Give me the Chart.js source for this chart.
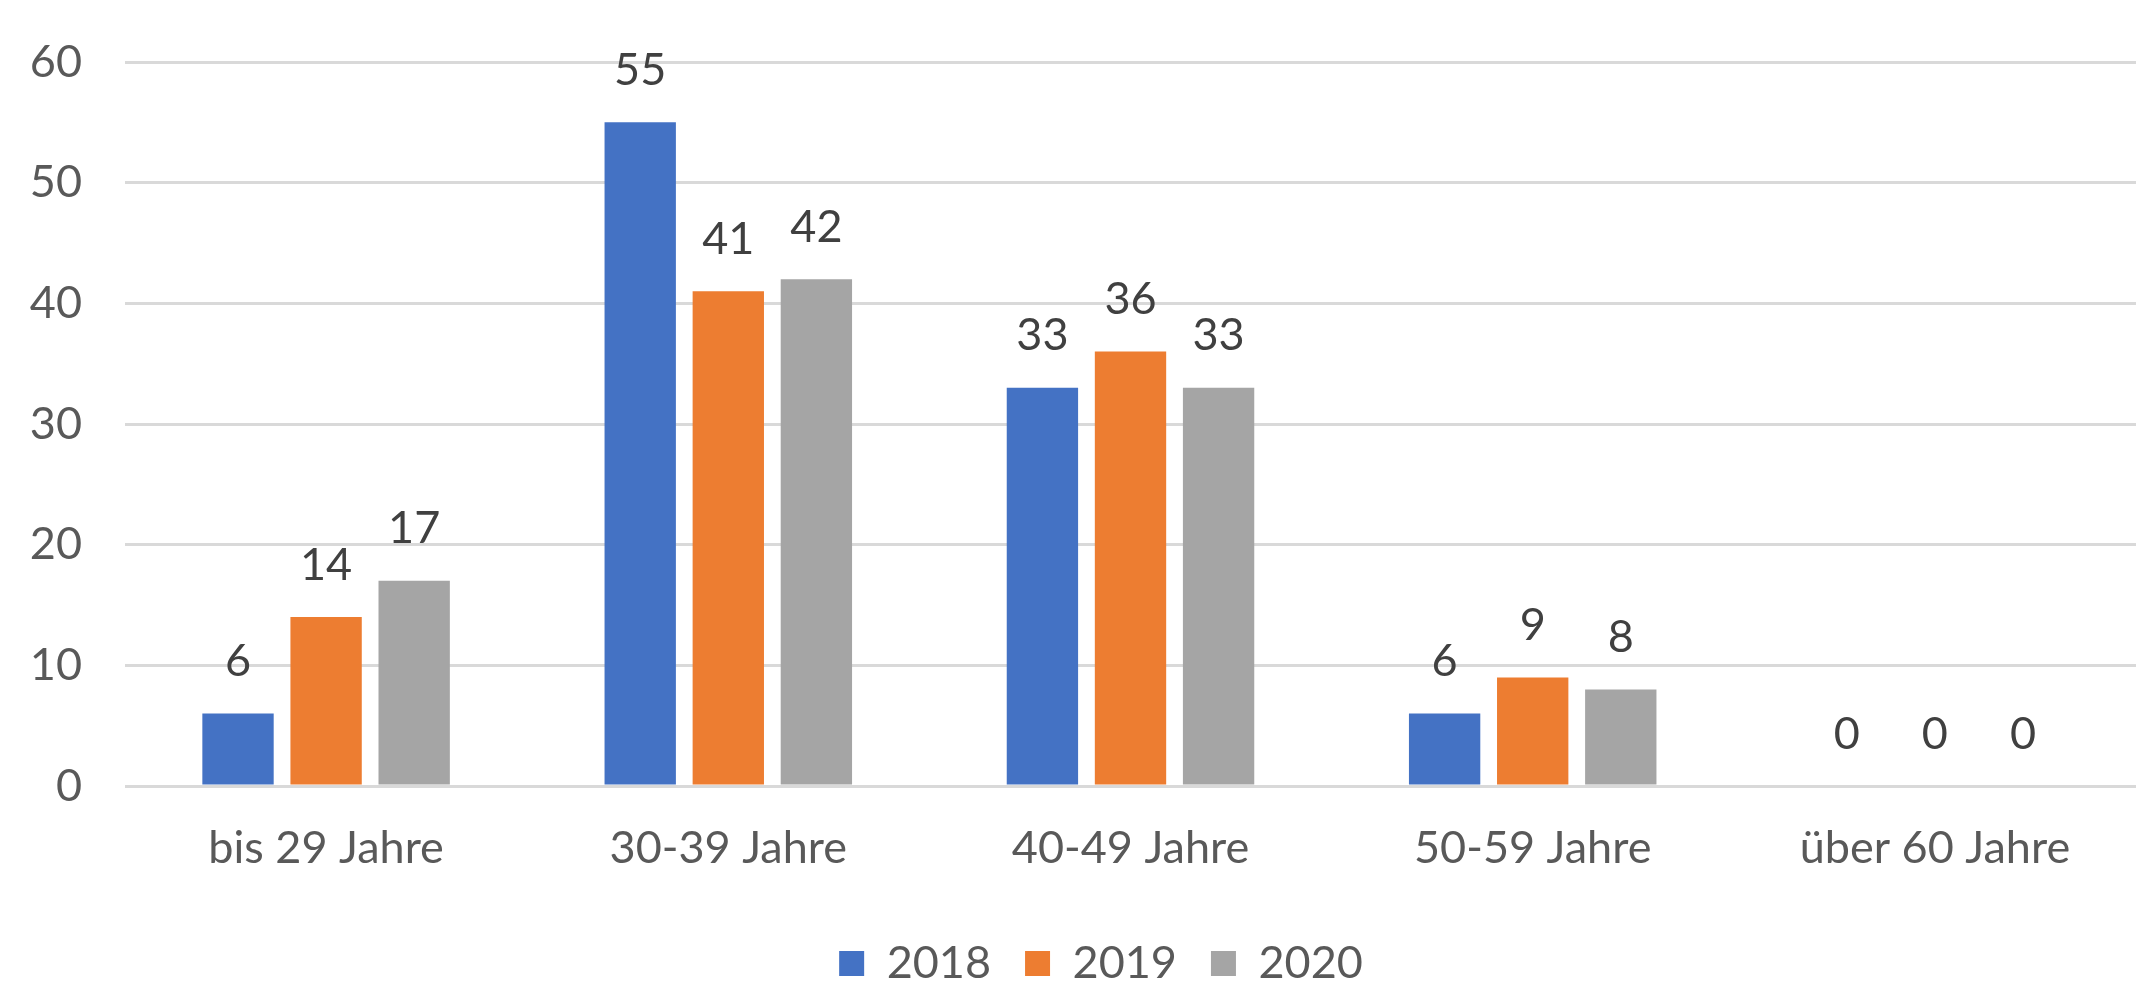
<!DOCTYPE html>
<html>
<head>
<meta charset="utf-8">
<script src="https://cdn.jsdelivr.net/npm/chart.js@4/dist/chart.umd.min.js"></script>
<style>
    body { margin: 0; background: #fff; }
    #wrap { width: 2139px; height: 982px; }
</style>
</head>
<body>
<div id="wrap"><canvas id="chart" width="2139" height="982"></canvas></div>
<script>
// data
let categories = ['bis 29 Jahre', '30-39 Jahre', '40-49 Jahre', '50-59 Jahre', 'über 60 Jahre'];
let years = ['2018', '2019', '2020'];
let values2018 = [6, 55, 33, 6, 0];
let values2019 = [14, 41, 36, 9, 0];
let values2020 = [17, 42, 33, 8, 0];
let yTicks = [0, 10, 20, 30, 40, 50, 60];

let colors = ['#4472C4', '#ED7D31', '#A5A5A5'];
let fontFamily = 'Lato, "Open Sans", sans-serif';
let fontSize = 45;

// draws the value above each bar
let valueLabels = {
    id: 'valueLabels',
    afterDatasetsDraw: (chart) => {
        let ctx = chart.ctx;
        ctx.save();
        ctx.font = fontSize + 'px ' + fontFamily;
        ctx.fillStyle = '#404040';
        ctx.textAlign = 'center';
        ctx.textBaseline = 'middle';
        chart.data.datasets.forEach((ds, i) => {
            let meta = chart.getDatasetMeta(i);
            meta.data.forEach((bar, j) => {
                ctx.fillText(String(ds.data[j]), bar.x, bar.y - 52);
            });
        });
        ctx.restore();
    }
};

// the legend in the reference sits a bit right of the canvas centre
let legendShift = {
    id: 'legendShift',
    afterLayout: (chart) => {
        chart.legend.left += 66;
    }
};

let makeDataset = (label, data, color) => {
    return {
        label: label,
        data: data,
        backgroundColor: color,
        borderWidth: 0,
        categoryPercentage: 0.657,
        barPercentage: 0.81
    };
};

let ctx = document.querySelector('#chart').getContext('2d');
let chart = new Chart(ctx, {
    type: 'bar',
    data: {
        labels: categories,
        datasets: [
            makeDataset(years[0], values2018, colors[0]),
            makeDataset(years[1], values2019, colors[1]),
            makeDataset(years[2], values2020, colors[2])
        ]
    },
    options: {
        responsive: false,
        animation: false,
        devicePixelRatio: 1,
        layout: { padding: { top: 62, right: 3, bottom: -14, left: 0 } },
        scales: {
            x: {
                grid: { display: false, drawTicks: false },
                border: { display: false },
                ticks: { color: '#595959', font: { family: fontFamily, size: fontSize }, padding: 35 },
                afterFit: (scale) => { scale.height = 121; }
            },
            y: {
                min: 0,
                max: 60,
                afterBuildTicks: (scale) => { scale.ticks = yTicks.map(v => ({ value: v })); },
                grid: { color: '#D9D9D9', lineWidth: 3, drawTicks: false },
                border: { display: false },
                ticks: { color: '#595959', font: { family: fontFamily, size: fontSize }, padding: 43 },
                afterFit: (scale) => {
                    scale.width = 125;
                    scale.paddingTop = 0;
                    scale.paddingBottom = 0;
                }
            }
        },
        plugins: {
            legend: {
                position: 'bottom',
                labels: {
                    boxWidth: 25,
                    boxHeight: 25,
                    padding: 34,
                    color: '#595959',
                    font: { family: fontFamily, size: fontSize }
                }
            },
            tooltip: { enabled: false }
        }
    },
    plugins: [valueLabels, legendShift]
});
</script>
</body>
</html>
